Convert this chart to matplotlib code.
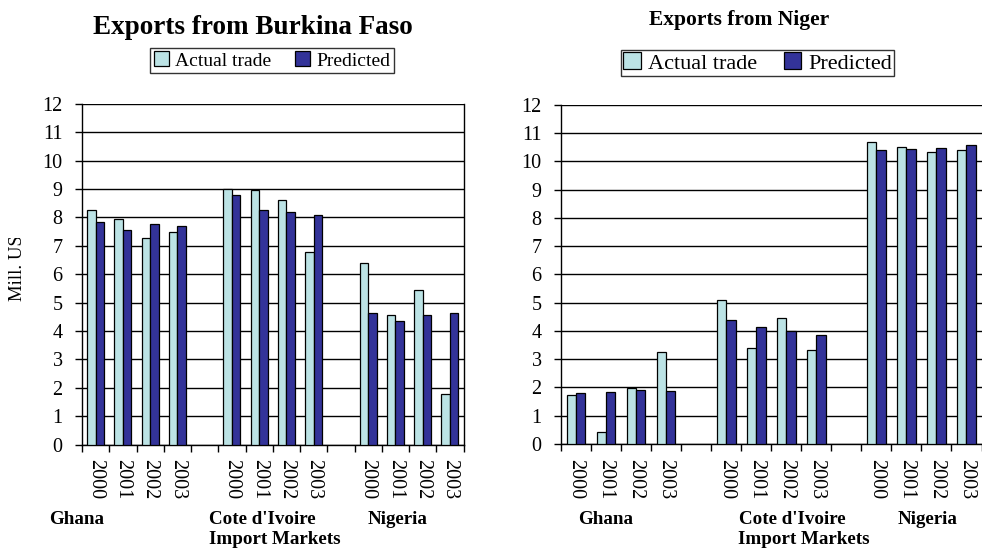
import matplotlib
matplotlib.use("Agg")
import matplotlib.pyplot as plt
import numpy as np
from matplotlib.patches import Patch
from matplotlib.transforms import Bbox

plt.rcParams['font.family'] = ['Liberation Serif', 'DejaVu Serif']

years = ["2000", "2001", "2002", "2003"]
markets = ["Ghana", "Cote d'Ivoire", "Nigeria"]

bf_actual = [8.25, 7.93, 7.27, 7.48, 9.0, 8.98, 8.62, 6.79, 6.39, 4.58, 5.45, 1.79]
bf_pred = [7.82, 7.55, 7.75, 7.71, 8.80, 8.25, 8.20, 8.09, 4.65, 4.37, 4.55, 4.65]

ng_actual = [1.73, 0.42, 1.99, 3.24, 5.10, 3.41, 4.46, 3.31, 10.67, 10.50, 10.33, 10.41]
ng_pred = [1.79, 1.83, 1.90, 1.86, 4.37, 4.15, 3.99, 3.85, 10.40, 10.45, 10.48, 10.58]

c_actual = "#BCE3E5"
c_pred = "#333399"

fig = plt.figure(figsize=(9.82, 5.5), dpi=100)

# slot positions: 4 years, gap, 4 years, gap, 4 years
pos = []
for g in range(3):
    for k in range(4):
        pos.append(g * 5 + k + 0.5)
pos = np.array(pos)


def draw(ax, actual, pred):
    w = 0.31
    ax.bar(pos - w / 2, actual, w, color=c_actual, edgecolor="black", linewidth=0.9, zorder=3)
    ax.bar(pos + w / 2, pred, w, color=c_pred, edgecolor="black", linewidth=0.9, zorder=3)
    ax.set_xlim(0, 14)
    ax.set_ylim(0, 12)
    ax.set_yticks(range(0, 13))
    ax.set_yticklabels([str(i) for i in range(13)], fontsize=14.5)
    ax.yaxis.grid(True, color="black", linewidth=1.0, zorder=0)
    ax.set_axisbelow(True)
    ax.set_xticks(np.arange(0, 15), minor=True)
    ax.set_xticks(pos)
    ax.set_xticklabels(years * 3, rotation=270, fontsize=14.5)
    ax.tick_params(axis="x", which="major", length=0, pad=10.5)
    ax.tick_params(axis="x", which="minor", length=5, width=1, direction="out")
    ax.tick_params(axis="y", length=5, width=1, direction="out", pad=9)
    for s in ax.spines.values():
        s.set_linewidth(1.0)
        s.set_color("black")
    ax.spines["top"].set_visible(False)


axL = fig.add_axes([82 / 982, 1 - 444.7 / 550, (463.5 - 82) / 982, (444.7 - 103.7) / 550])
draw(axL, bf_actual, bf_pred)
axR = fig.add_axes([561 / 982, 1 - 444 / 550, (981.5 - 561) / 982, (444 - 104.7) / 550])
draw(axR, ng_actual, ng_pred)
axR.spines["right"].set_visible(False)

handles = [Patch(facecolor=c_actual, edgecolor="black", linewidth=0.9),
           Patch(facecolor=c_pred, edgecolor="black", linewidth=0.9)]
labels = ["Actual trade", "Predicted"]

fig.text(253 / 982, 1 - 28 / 550, "Exports from Burkina Faso", ha="center", va="center",
         fontsize=19.5, fontweight="bold")
fig.text(739 / 982, 1 - 20 / 550, "Exports from Niger", ha="center", va="center",
         fontsize=15.5, fontweight="bold")

for cx, cy, fs, cs, bp in [(272, 60.5, 14, 1.2, 0.2), (757.5, 63, 16, 1.2, 0.1)]:
    fig.legend(handles, labels, loc="center", bbox_to_anchor=(cx / 982, 1 - cy / 550),
               ncol=2, fontsize=fs, frameon=True, fancybox=False, edgecolor="black",
               handlelength=0.8, handleheight=0.8, handletextpad=0.3, columnspacing=cs,
               borderpad=bp, borderaxespad=0).get_frame().set_linewidth(1.0)

# group labels
gl = dict(ha="center", va="center", fontsize=13.7, fontweight="bold")
for (x, y, t) in [(77, 519, "Ghana"), (262.5, 519, "Cote d'Ivoire"), (398, 519, "Nigeria"),
                  (275, 539, "Import Markets"),
                  (606, 519, "Ghana"), (792, 519, "Cote d'Ivoire"), (928, 519, "Nigeria"),
                  (804, 539, "Import Markets")]:
    fig.text(x / 982, 1 - y / 550, t, **gl)

# clipped y label
yl = fig.text(17 / 982, 1 - 263 / 550, "Mill. US$", rotation=90, ha="center", va="center",
              fontsize=13.5)
yl.set_clip_box(Bbox.from_extents(0, 0, 982, 550 - 238))
yl.set_clip_on(True)

fig.savefig("out.png", dpi=100)
